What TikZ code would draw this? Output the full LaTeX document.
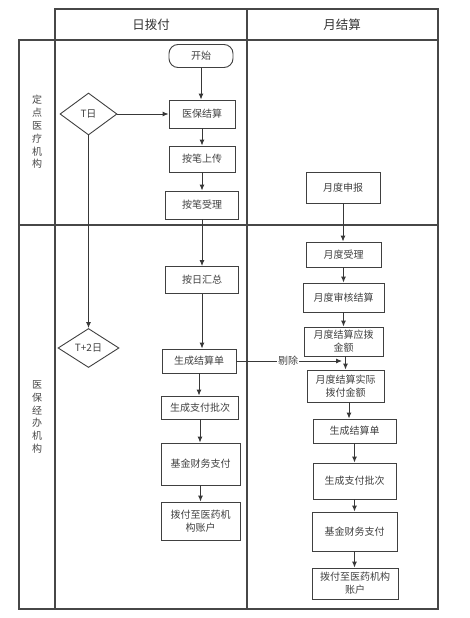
\documentclass[tikz,border=0pt]{standalone}
\usepackage{fontspec}
\setmainfont{Noto Sans CJK SC}
\usetikzlibrary{shapes.geometric,arrows.meta}
\begin{document}
\begin{tikzpicture}[x=1pt,y=-1pt,
  frame/.style={draw=black!72,line width=1.2pt},
  box/.style={draw=black!75,line width=0.9pt,rectangle,inner sep=0pt,align=center,text=black!75,font=\fontsize{10}{13}\selectfont},
  dia/.style={draw=black!75,line width=0.9pt,diamond,inner sep=0pt,text=black!75,font=\fontsize{10}{12}\selectfont},
  arr/.style={draw=black!78,line width=0.9pt,-{Latex[length=6pt,width=5pt]}},
  lane/.style={align=center,text=black!72,font=\fontsize{10}{12.8}\selectfont},
  head/.style={text=black!80,font=\fontsize{12.5}{14}\selectfont}]
\useasboundingbox (0,0) rectangle (470,618);
% frame
\draw[frame] (55,9) rectangle (438,40);
\draw[frame] (247,9) -- (247,609);
\draw[frame] (19,40) rectangle (438,609);
\draw[frame] (55,40) -- (55,609);
\draw[frame] (19,225) -- (438,225);
\node[head] (h1) at (151,25) {日拨付};
\node[head] (h2) at (342,25) {月结算};
\node[lane] (l1) at (37,132) {定\\点\\医\\疗\\机\\构};
\node[lane] (l2) at (37,417) {医\\保\\经\\办\\机\\构};
% left column
\node[box,rounded corners=9pt,minimum width=64,minimum height=23] (start) at (201,56) {开始};
\node[dia,minimum width=57,minimum height=42] (td) at (88.5,114) {T日};
\node[box,minimum width=66,minimum height=28] (ybjs) at (202,114) {医保结算};
\node[box,minimum width=66,minimum height=26] (abss) at (202,159) {按笔上传};
\node[box,minimum width=73,minimum height=28] (absl) at (202,205) {按笔受理};
\node[box,minimum width=73,minimum height=27] (arhz) at (202,280) {按日汇总};
\node[dia,minimum width=61,minimum height=39] (t2d) at (88.5,348) {T+2日};
\node[box,minimum width=74,minimum height=24] (scjsd) at (199,361) {生成结算单};
\node[box,minimum width=77,minimum height=23] (sczf) at (200,407.5) {生成支付批次};
\node[box,minimum width=79,minimum height=42] (jjcw) at (200.5,464) {基金财务支付};
\node[box,minimum width=79,minimum height=38] (bfzh) at (200.5,521) {拨付至医药机\\构账户};
% right column
\node[box,minimum width=74,minimum height=31] (ydsb) at (343,187.5) {月度申报};
\node[box,minimum width=75,minimum height=25] (ydsl) at (343.5,254.5) {月度受理};
\node[box,minimum width=81,minimum height=29] (ydsh) at (343.5,297.5) {月度审核结算};
\node[box,minimum width=79,minimum height=29] (ydyb) at (343.5,341.5) {月度结算应拨\\金额};
\node[box,minimum width=77,minimum height=32] (ydsj) at (345.5,386) {月度结算实际\\拨付金额};
\node[box,minimum width=83,minimum height=24] (scjsd2) at (354.5,431) {生成结算单};
\node[box,minimum width=83,minimum height=36] (sczf2) at (354.5,481) {生成支付批次};
\node[box,minimum width=85,minimum height=39] (jjcw2) at (354.5,531.5) {基金财务支付};
\node[box,minimum width=86,minimum height=31] (bfzh2) at (355,583.5) {拨付至医药机构\\账户};
% arrows left
\draw[arr] (start.south) -- (start.south |- ybjs.north);
\draw[arr] (td.east) -- (ybjs.west);
\draw[arr] (td.south) -- (t2d.north);
\draw[arr] (ybjs.south) -- (ybjs.south |- abss.north);
\draw[arr] (abss.south) -- (abss.south |- absl.north);
\draw[arr] (absl.south) -- (absl.south |- arhz.north);
\draw[arr] (arhz.south) -- (arhz.south |- scjsd.north);
\draw[arr] (scjsd.south) -- (scjsd.south |- sczf.north);
\draw[arr] (sczf.south) -- (sczf.south |- jjcw.north);
\draw[arr] (jjcw.south) -- (jjcw.south |- bfzh.north);
% arrows right
\draw[arr] (ydsb.south) -- (ydsb.south |- ydsl.north);
\draw[arr] (ydsl.south) -- (ydsl.south |- ydsh.north);
\draw[arr] (ydsh.south) -- (ydsh.south |- ydyb.north);
\draw[arr] (ydyb.south -| ydsj.north) -- (ydsj.north);
\draw[arr] (ydsj.south -| 349,0) -- (349,0 |- scjsd2.north);
\draw[arr] (scjsd2.south) -- (scjsd2.south |- sczf2.north);
\draw[arr] (sczf2.south) -- (sczf2.south |- jjcw2.north);
\draw[arr] (jjcw2.south) -- (jjcw2.south |- bfzh2.north);
% cut arrow
\coordinate (cutend) at (342,361);
\draw[arr] (scjsd.east) -- node[pos=0.49,fill=white,inner sep=1pt,text=black!72,font=\fontsize{10}{12}\selectfont] (cutlbl) {剔除} (cutend);
\end{tikzpicture}
\end{document}
